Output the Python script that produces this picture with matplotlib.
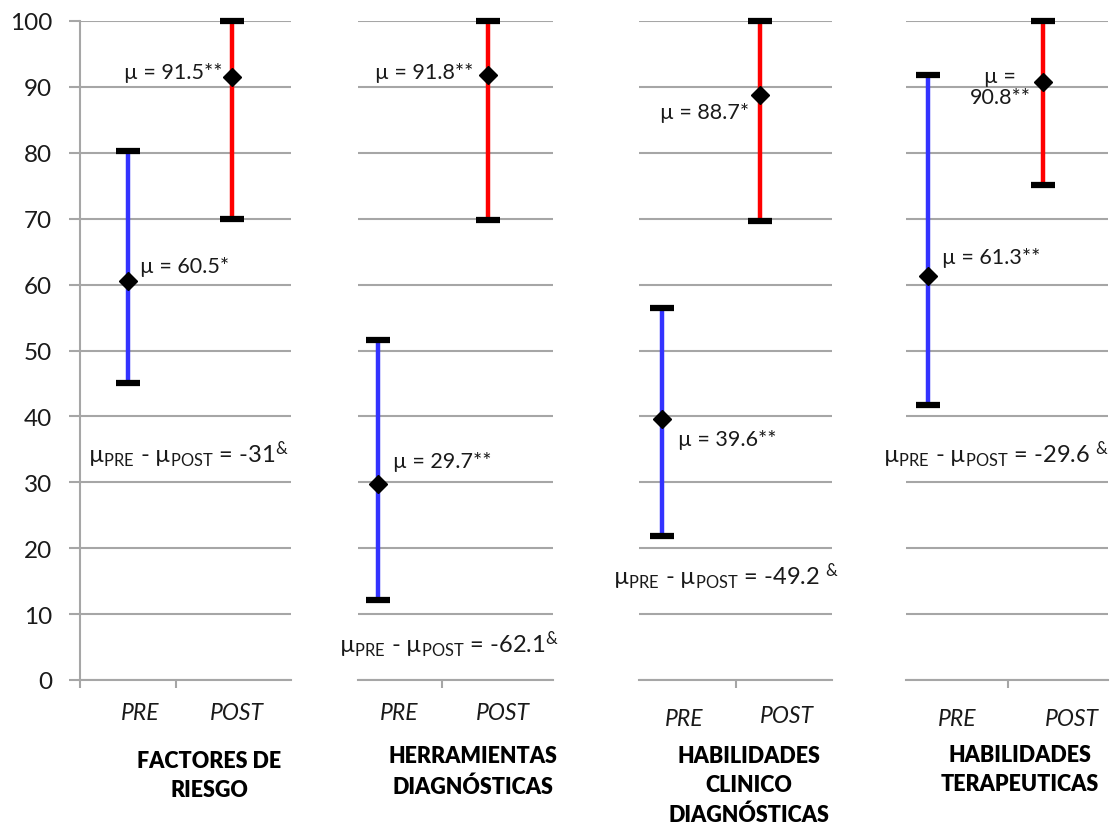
import matplotlib
matplotlib.use("Agg")
import matplotlib.pyplot as plt

plt.rcParams['font.family'] = ['Lato', 'DejaVu Sans']
plt.rcParams['mathtext.fontset'] = 'custom'
plt.rcParams['mathtext.rm'] = 'Lato'
plt.rcParams['mathtext.it'] = 'Lato:italic'
plt.rcParams['mathtext.bf'] = 'Lato:bold'

# ---- data ----
panel_titles = ["FACTORES DE\nRIESGO", "HERRAMIENTAS\nDIAGNÓSTICAS",
                "HABILIDADES\nCLINICO\nDIAGNÓSTICAS", "HABILIDADES\nTERAPEUTICAS"]
groups = ["PRE", "POST"]
pre_mean = [60.5, 29.7, 39.6, 61.3]
pre_low = [45.1, 12.2, 21.8, 41.7]
pre_high = [80.2, 51.6, 56.4, 91.8]
post_mean = [91.5, 91.8, 88.7, 90.8]
post_low = [70.0, 69.8, 69.6, 75.1]
post_high = [100.0, 100.0, 100.0, 100.0]
pre_marks = ["*", "**", "**", "**"]
post_marks = ["**", "**", "*", "**"]
mean_diff = ["-31", "-62.1", "-49.2 ", "-29.6 "]
y_ticks = [0, 10, 20, 30, 40, 50, 60, 70, 80, 90, 100]

# ---- layout (figure pixels) ----
W, H = 1112, 828
y_bottom_px, y_top_px = 681, 22
panel_left = [80, 358, 639, 906]
panel_right = [291, 553, 832, 1108]
pre_px = [128, 378, 662, 928]
post_px = [232, 488, 760, 1043]
mid_tick_px = [176, 442, 736, 1008]
group_label_y = [[713, 713], [713, 713], [720, 717], [720, 720]]
group_label_x = [[140, 237], [399, 503], [684, 787], [957, 1072]]
title_xy = [(209, 776), (473, 772), (749, 786), (1020, 770)]
diff_xy = [(88, 455), (339, 645), (613, 577), (883, 455)]
# label offsets from the diamond (pixels) and alignment
pre_off = [(12, 15), (15, 23), (16, -20), (14, 19)]
post_off = [(-10, 5), (-15, 3), (-11, -17), (-43, -5)]
post_ha = ["right", "right", "right", "center"]

GRID = "#a6a6a6"
BLUE = "#3333ff"
RED = "#ff0000"
TXT = "#1a1a1a"

fig = plt.figure(figsize=(W / 100, H / 100), dpi=100)

def fx(px):
    return px / W

def fy(py):
    return 1 - py / H

for i in range(4):
    l, r = panel_left[i], panel_right[i]
    ax = fig.add_axes([fx(l), fy(y_bottom_px), (r - l) / W, (y_bottom_px - y_top_px) / H])
    s = post_px[i] - pre_px[i]
    ax.set_xlim((l - pre_px[i]) / s, (r - pre_px[i]) / s)
    ax.set_ylim(0, 100)
    ax.set_facecolor("none")
    for sp in ["top", "right"]:
        ax.spines[sp].set_visible(False)
    ax.spines["bottom"].set_color(GRID)
    ax.spines["bottom"].set_linewidth(1.5)
    ax.set_yticks(y_ticks)
    ax.yaxis.grid(True, color=GRID, linewidth=1.5)
    ax.set_axisbelow(True)
    mid = (mid_tick_px[i] - pre_px[i]) / s
    if i == 0:
        ax.spines["left"].set_color(GRID)
        ax.spines["left"].set_linewidth(1.5)
        ax.tick_params(axis="y", length=8, width=1.5, color=GRID, pad=12,
                       labelsize=17.5, labelcolor=TXT)
        ax.set_xticks([ax.get_xlim()[0], mid])
    else:
        ax.spines["left"].set_visible(False)
        ax.tick_params(axis="y", length=0, labelleft=False)
        ax.set_xticks([mid])
    ax.tick_params(axis="x", length=6, width=1.5, color=GRID, labelbottom=False)

    means = [pre_mean[i], post_mean[i]]
    lows = [pre_low[i], post_low[i]]
    highs = [pre_high[i], post_high[i]]
    for j, col in enumerate([BLUE, RED]):
        ax.errorbar([j], [means[j]],
                    yerr=[[means[j] - lows[j]], [highs[j] - means[j]]],
                    fmt="none", ecolor=col, elinewidth=3.2, capsize=0, clip_on=False, zorder=3)
        for v in (lows[j], highs[j]):
            ax.plot([j], [v], marker="_", markersize=17, markeredgewidth=4.5,
                    color="black", clip_on=False, zorder=4)
        ax.plot([j], [means[j]], marker="D", markersize=9, color="black",
                clip_on=False, zorder=5)

    ax.annotate(f"µ = {pre_mean[i]}{pre_marks[i]}", xy=(0, pre_mean[i]),
                xytext=pre_off[i], textcoords="offset pixels",
                ha="left", va="center", fontsize=15.5, color=TXT)
    post_txt = f"µ = {post_mean[i]}{post_marks[i]}"
    if post_ha[i] == "center":
        post_txt = f"µ =\n{post_mean[i]}{post_marks[i]}"
    ax.annotate(post_txt, xy=(1, post_mean[i]),
                xytext=post_off[i], textcoords="offset pixels",
                ha=post_ha[i], va="center", fontsize=15.5, color=TXT,
                multialignment="center", linespacing=1.1)

    # group labels
    for j, g in enumerate(groups):
        fig.text(fx(group_label_x[i][j]), fy(group_label_y[i][j]), g,
                 ha="center", va="center", fontsize=16.5, style="italic", color=TXT)
    tx, ty = title_xy[i]
    fig.text(fx(tx), fy(ty), panel_titles[i], ha="center", va="center",
             fontsize=15.5, fontweight="heavy", color="black", linespacing=1.5)
    dx, dy = diff_xy[i]
    fig.text(fx(dx), fy(dy),
             r"$\mathrm{µ}_{\mathrm{PRE}}$ - $\mathrm{µ}_{\mathrm{POST}}$ = " + mean_diff[i] + r"$^{&}$",
             ha="left", va="center", fontsize=17, color=TXT)

fig.savefig("out.png", dpi=100, facecolor="white")
